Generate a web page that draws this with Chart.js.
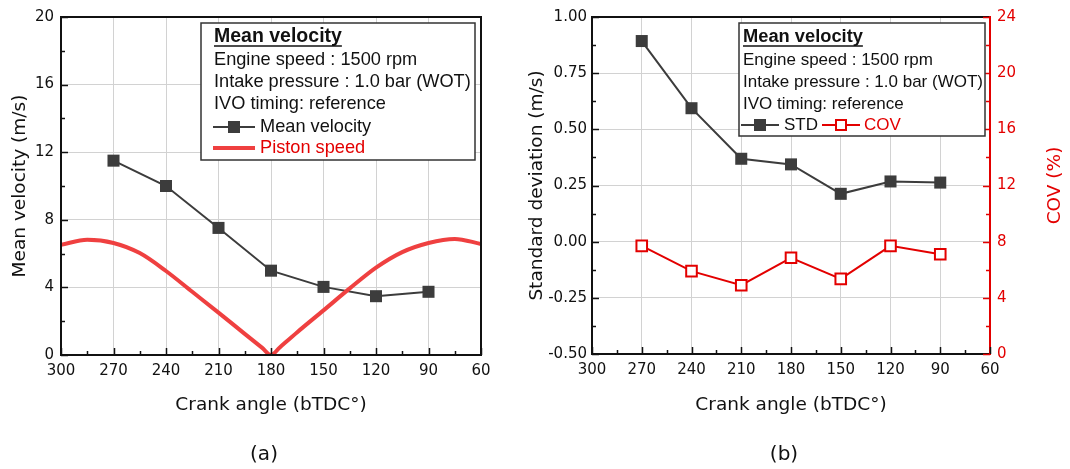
<!DOCTYPE html>
<html>
<head>
<meta charset="utf-8">
<script src="https://cdn.jsdelivr.net/npm/chart.js@4.4.1/dist/chart.umd.min.js"></script>
<style>
  body { margin: 0; background: #fff; }
  #wrap { position: relative; width: 1070px; height: 469px; }
  #velBox { position: absolute; left: 0; top: 0; }
  #stdBox { position: absolute; left: 520px; top: 0; }
</style>
</head>
<body>
<div id="wrap">
  <div id="velBox"><canvas id="velChart" width="520" height="469"></canvas></div>
  <div id="stdBox"><canvas id="stdChart" width="550" height="469"></canvas></div>
</div>
<script>
// measured crank angles (bTDC deg)
const crankAngles = [270, 240, 210, 180, 150, 120, 90];
const meanVelocity = [11.5, 10.0, 7.52, 4.99, 4.03, 3.48, 3.74];
const stdValues = [0.893, 0.594, 0.369, 0.344, 0.213, 0.268, 0.263];
const covValues = [7.7, 5.9, 4.9, 6.85, 5.35, 7.7, 7.1];

// piston speed trace
const pistonAngles = [300, 285, 270, 255, 240, 225, 210, 195, 185, 180, 175, 165, 150, 135, 120, 105, 90, 75, 60];
const pistonSpeed = [6.52, 6.82, 6.63, 6.03, 4.97, 3.74, 2.51, 1.25, 0.42, 0, 0.45, 1.35, 2.64, 3.94, 5.17, 6.09, 6.63, 6.87, 6.57];

const FONT = '"DejaVu Sans", Verdana, sans-serif';
const LEG_FONT = '"Liberation Sans", Arial, sans-serif';
const RED = '#e30000';
const DARK = '#3c3c3c';
const GRID = '#d2d2d2';

function pts(xs, ys) {
  return xs.map((x, i) => ({ x: x, y: ys[i] }));
}

function line(ctx, x1, y1, x2, y2) {
  ctx.beginPath();
  ctx.moveTo(x1, y1);
  ctx.lineTo(x2, y2);
  ctx.stroke();
}

function text(ctx, str, x, y, font, color, align, rot) {
  ctx.save();
  ctx.translate(x, y);
  if (rot) ctx.rotate(rot);
  ctx.font = font;
  ctx.fillStyle = color;
  ctx.textAlign = align || 'left';
  ctx.textBaseline = 'middle';
  ctx.fillText(str, 0, 0);
  ctx.restore();
}

function square(ctx, x, y, hollow, color) {
  ctx.save();
  if (hollow) {
    ctx.fillStyle = '#fff';
    ctx.strokeStyle = color;
    ctx.lineWidth = 2;
    ctx.fillRect(x - 5, y - 5, 10, 10);
    ctx.strokeRect(x - 5, y - 5, 10, 10);
  } else {
    ctx.fillStyle = color;
    ctx.fillRect(x - 6, y - 6, 12, 12);
  }
  ctx.restore();
}

// inward ticks along one axis
function ticksOn(ctx, scale, minor, edge, dir, vertical) {
  const n = Math.round((scale.max - scale.min) / minor);
  for (let i = 0; i <= n; i++) {
    const v = scale.min + i * minor;
    const p = Math.round(scale.getPixelForValue(v)) + 0.5;
    const len = i % 2 === 0 ? 7 : 4;
    if (vertical) line(ctx, edge, p, edge + dir * len, p);
    else line(ctx, p, edge, p, edge + dir * len);
  }
}

const framePlugin = {
  id: 'frame',
  afterDraw(chart, args, o) {
    const ctx = chart.ctx;
    const a = chart.chartArea;
    const sx = chart.scales.x, sy = chart.scales.y, sy2 = chart.scales.y2;
    ctx.save();
    ctx.lineCap = 'butt';

    // frame
    ctx.strokeStyle = '#111';
    ctx.lineWidth = 2;
    line(ctx, a.left, a.top, a.right, a.top);
    line(ctx, a.left, a.top - 1, a.left, a.bottom + 1);
    line(ctx, a.left - 1, a.bottom, a.right + 1, a.bottom);
    if (sy2) ctx.strokeStyle = RED;
    line(ctx, a.right, a.top - 1, a.right, a.bottom + 1);

    ctx.lineWidth = 1.5;
    ctx.strokeStyle = '#111';
    ticksOn(ctx, sx, 15, a.bottom, -1, false);
    ticksOn(ctx, sy, o.yMinor, a.left, 1, true);
    if (sy2) {
      ctx.strokeStyle = RED;
      ticksOn(ctx, sy2, 2, a.right, -1, true);
    }

    // axis titles and caption
    const cx = (a.left + a.right) / 2, cy = (a.top + a.bottom) / 2;
    const tf = '18.5px ' + FONT;
    text(ctx, 'Crank angle (bTDC°)', cx, 405, tf, '#111', 'center');
    text(ctx, o.yTitle, o.yTitleX, cy, tf, '#111', 'center', -Math.PI / 2);
    if (o.y2Title) text(ctx, o.y2Title, o.y2TitleX, cy, tf, RED, 'center', -Math.PI / 2);
    text(ctx, o.caption, cx - 7, 455, '20px ' + FONT, '#111', 'center');

    // legend box
    const b = o.box;
    ctx.fillStyle = '#fff';
    ctx.fillRect(b.x, b.y, b.w, b.h);
    ctx.strokeStyle = '#333';
    ctx.lineWidth = 1.5;
    ctx.strokeRect(b.x, b.y, b.w, b.h);

    const lf = o.legendSize + 'px ' + LEG_FONT;
    const tx = b.x + 13 - (o.legendShift || 0);
    const hf = 'bold ' + (o.legendSize + 1.3) + 'px ' + LEG_FONT;
    text(ctx, 'Mean velocity', tx, b.y + 14, hf, '#111');
    ctx.font = hf;
    const uw = ctx.measureText('Mean velocity').width;
    ctx.strokeStyle = '#111';
    ctx.lineWidth = 1.5;
    line(ctx, tx, b.y + 23, tx + uw, b.y + 23);
    text(ctx, 'Engine speed : 1500 rpm', tx, b.y + 37, lf, '#111');
    text(ctx, 'Intake pressure : 1.0 bar (WOT)', tx, b.y + 59, lf, '#111');
    text(ctx, 'IVO timing: reference', tx, b.y + 81, lf, '#111');
    o.drawKeys(ctx, tx, b.y, lf);
    ctx.restore();
  }
};

function baseX() {
  return {
    type: 'linear',
    reverse: true,
    min: 60,
    max: 300,
    afterFit(s) { s.height = 70; },
    grid: { color: GRID, lineWidth: 1, drawTicks: false },
    border: { display: false },
    ticks: {
      stepSize: 30,
      padding: 7,
      color: '#111',
      font: { family: FONT, size: 15 }
    }
  };
}

new Chart(document.getElementById('velChart'), {
  type: 'line',
  data: {
    datasets: [
      {
        label: 'Piston speed',
        data: pts(pistonAngles, pistonSpeed),
        borderColor: '#ef4040',
        borderWidth: 4,
        pointRadius: 0,
        cubicInterpolationMode: 'monotone',
        fill: false
      },
      {
        label: 'Mean velocity',
        data: pts(crankAngles, meanVelocity),
        borderColor: DARK,
        borderWidth: 2,
        pointStyle: 'rect',
        pointRadius: 8.5,
        pointBackgroundColor: DARK,
        pointBorderColor: DARK,
        pointBorderWidth: 0,
        tension: 0
      }
    ]
  },
  options: {
    responsive: false,
    animation: false,
    layout: { padding: { left: 0, right: 39, top: 17, bottom: 44 } },
    scales: {
      x: baseX(),
      y: {
        min: 0,
        max: 20,
        afterFit(s) { s.width = 61; },
        grid: { color: GRID, lineWidth: 1, drawTicks: false },
        border: { display: false },
        ticks: { stepSize: 4, padding: 7, color: '#111', font: { family: FONT, size: 15 } }
      }
    },
    plugins: {
      legend: { display: false },
      tooltip: { enabled: false },
      frame: {
        yMinor: 2,
        yTitle: 'Mean velocity (m/s)',
        yTitleX: 20,
        caption: '(a)',
        legendSize: 18.2,
        box: { x: 201, y: 23, w: 274, h: 137 },
        drawKeys(ctx, tx, y0, lf) {
          ctx.lineWidth = 2;
          ctx.strokeStyle = DARK;
          line(ctx, tx - 1, y0 + 104, tx + 41, y0 + 104);
          square(ctx, tx + 20, y0 + 104, false, DARK);
          text(ctx, 'Mean velocity', tx + 46, y0 + 104, lf, '#111');
          ctx.lineWidth = 4;
          ctx.strokeStyle = '#ef4040';
          line(ctx, tx - 1, y0 + 125, tx + 41, y0 + 125);
          text(ctx, 'Piston speed', tx + 46, y0 + 125, lf, RED);
        }
      }
    }
  },
  plugins: [framePlugin]
});

new Chart(document.getElementById('stdChart'), {
  type: 'line',
  data: {
    datasets: [
      {
        label: 'STD',
        data: pts(crankAngles, stdValues),
        yAxisID: 'y',
        borderColor: DARK,
        borderWidth: 2,
        pointStyle: 'rect',
        pointRadius: 8.5,
        pointBackgroundColor: DARK,
        pointBorderColor: DARK,
        pointBorderWidth: 0,
        tension: 0
      },
      {
        label: 'COV',
        data: pts(crankAngles, covValues),
        yAxisID: 'y2',
        borderColor: RED,
        borderWidth: 2,
        pointStyle: 'rect',
        pointRadius: 7.5,
        pointBackgroundColor: '#fff',
        pointBorderColor: RED,
        pointBorderWidth: 2,
        tension: 0
      }
    ]
  },
  options: {
    responsive: false,
    animation: false,
    layout: { padding: { left: 0, right: 0, top: 17, bottom: 45 } },
    scales: {
      x: baseX(),
      y: {
        position: 'left',
        min: -0.5,
        max: 1.0,
        afterFit(s) { s.width = 72; },
        grid: { color: GRID, lineWidth: 1, drawTicks: false },
        border: { display: false },
        ticks: {
          stepSize: 0.25,
          padding: 5,
          color: '#111',
          font: { family: FONT, size: 15 },
          callback: v => v.toFixed(2)
        }
      },
      y2: {
        position: 'right',
        min: 0,
        max: 24,
        afterFit(s) { s.width = 80; },
        grid: { display: false, drawTicks: false },
        border: { display: false },
        ticks: { stepSize: 4, padding: 7, color: RED, font: { family: FONT, size: 15 } }
      }
    },
    plugins: {
      legend: { display: false },
      tooltip: { enabled: false },
      frame: {
        yMinor: 0.125,
        yTitle: 'Standard deviation (m/s)',
        yTitleX: 17,
        y2Title: 'COV (%)',
        y2TitleX: 535,
        caption: '(b)',
        legendShift: 9,
        legendSize: 17,
        box: { x: 219, y: 23, w: 246, h: 113 },
        drawKeys(ctx, tx, y0, lf) {
          ctx.lineWidth = 2;
          ctx.strokeStyle = DARK;
          line(ctx, tx - 2, y0 + 102, tx + 36, y0 + 102);
          square(ctx, tx + 17, y0 + 102, false, DARK);
          text(ctx, 'STD', tx + 41, y0 + 102, lf, '#111');
          ctx.strokeStyle = RED;
          line(ctx, tx + 79, y0 + 102, tx + 117, y0 + 102);
          square(ctx, tx + 98, y0 + 102, true, RED);
          text(ctx, 'COV', tx + 121, y0 + 102, lf, RED);
        }
      }
    }
  },
  plugins: [framePlugin]
});
</script>
</body>
</html>
